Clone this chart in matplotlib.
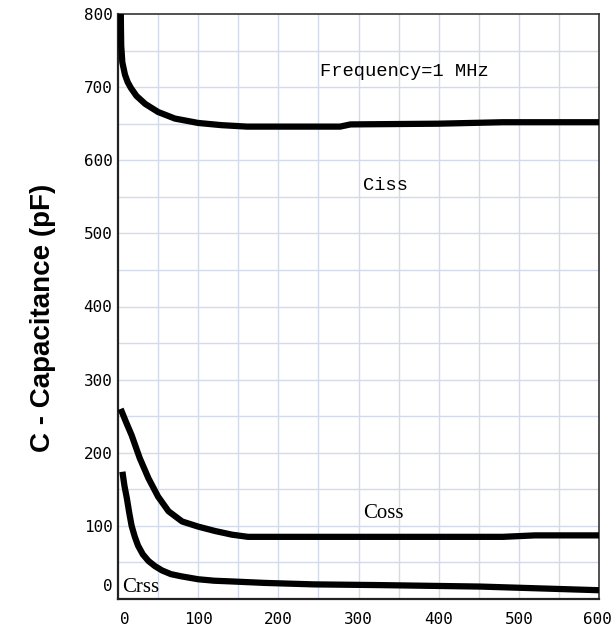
import numpy as np
import matplotlib
matplotlib.use("Agg")
import matplotlib.pyplot as plt
import matplotlib.transforms as mtransforms

# Capacitance vs drain-source voltage
ciss_x = [3.5, 3.7, 4, 5.4, 8.7, 12, 16, 23, 34, 50, 71, 100, 129, 161, 202, 277, 290, 400, 480, 600]
ciss_y = [800, 780, 757, 734, 717, 707, 699, 688, 677, 666, 657, 651, 648, 646, 646, 646, 649, 650, 652, 652]

coss_x = [3.3, 10, 17, 27, 38, 50, 63, 80, 100, 121, 142, 162, 200, 300, 400, 480, 520, 600]
coss_y = [260, 242, 224, 193, 165, 140, 120, 106, 99, 93, 88, 85, 85, 85, 85, 85, 87, 87]

crss_x = [5.5, 8, 11, 14, 17, 21, 25, 31, 38, 46, 55, 66, 79, 100, 120, 142, 183, 244, 327, 452, 600]
crss_y = [174, 155, 138, 118, 100, 85, 73, 61, 52, 45, 39, 34, 31, 27, 25, 24, 22, 20, 19, 17, 12]

x_ticks = [0, 100, 200, 300, 400, 500, 600]
y_ticks = [0, 100, 200, 300, 400, 500, 600, 700, 800]

fig = plt.figure(figsize=(6.16, 6.33), dpi=100)
ax = fig.add_axes([118 / 616, 1 - 599 / 633, 481 / 616, 585 / 633])

tick_font = "DejaVu Sans Mono"
mono = "Liberation Mono"
serif = "Liberation Serif"

# light blue grid every 50 units
for v in np.arange(50, 600, 50):
    ax.axvline(v, color="#d3dbea", lw=1.0, zorder=0)
for v in np.arange(50, 800, 50):
    ax.axhline(v, color="#d3dbea", lw=1.0, zorder=0)

line_kw = dict(color="black", lw=4.5, solid_capstyle="butt", solid_joinstyle="round", zorder=3)
ax.plot(ciss_x, ciss_y, **line_kw)
ax.plot(coss_x, coss_y, **line_kw)
ax.plot(crss_x, crss_y, **line_kw)

ax.set_xlim(0, 600)
ax.set_ylim(0, 800)
ax.set_xticks(x_ticks)
ax.set_yticks(y_ticks)
ax.set_xticklabels([str(t) for t in x_ticks], fontfamily=tick_font, fontsize=11.5)
ax.set_yticklabels([str(t) for t in y_ticks], fontfamily=tick_font, fontsize=11.5)
ax.tick_params(length=0, pad=4)
ax.tick_params(axis="x", pad=9)

# nudge the "0" labels off the corner
xl0 = ax.get_xticklabels()[0]
xl0.set_transform(xl0.get_transform() + mtransforms.ScaledTranslation(7 / 100, 0, fig.dpi_scale_trans))
yl0 = ax.get_yticklabels()[0]
yl0.set_transform(yl0.get_transform() + mtransforms.ScaledTranslation(0, 14 / 100, fig.dpi_scale_trans))
# keep "600" inside the figure edge
xl6 = ax.get_xticklabels()[-1]
xl6.set_transform(xl6.get_transform() + mtransforms.ScaledTranslation(-2 / 100, 0, fig.dpi_scale_trans))

for side in ["left", "bottom"]:
    ax.spines[side].set_linewidth(1.6)
    ax.spines[side].set_color("#222222")
for side in ["top", "right"]:
    ax.spines[side].set_linewidth(1.2)
    ax.spines[side].set_color("#333333")

ax.text(252, 721, "Frequency=1 MHz", fontfamily=mono, fontsize=13.5, ha="left", va="center")
ax.text(334, 566, "Ciss", fontfamily=mono, fontsize=13.5, ha="center", va="center")
ax.text(306, 111, "Coss", fontfamily=serif, fontsize=15, ha="left", va="baseline")
ax.text(5, 9, "Crss", fontfamily=serif, fontsize=15, ha="left", va="baseline")

fig.text(43 / 616, 1 - 318 / 633, "C - Capacitance (pF)", rotation=90,
         fontfamily="Liberation Sans", fontweight="bold", fontsize=20,
         ha="center", va="center")

fig.savefig("out.png", dpi=100)
